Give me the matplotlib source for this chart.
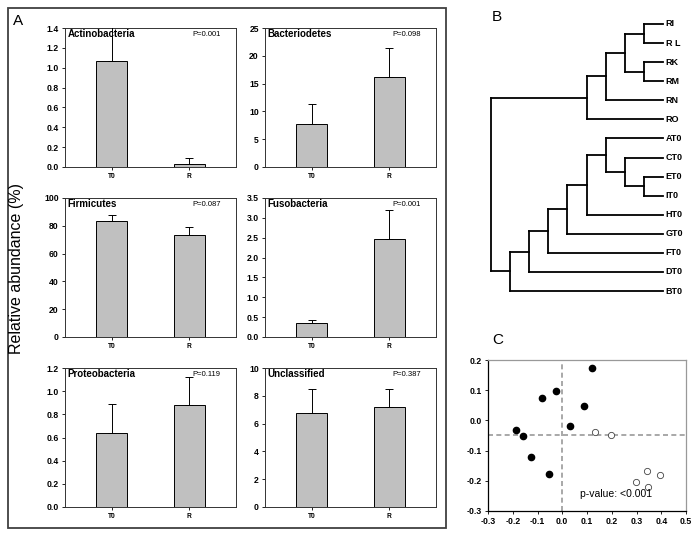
import numpy as np
import matplotlib
matplotlib.use("Agg")
import matplotlib.pyplot as plt
from matplotlib.patches import Rectangle

plt.rcParams['font.family'] = ['Liberation Sans', 'DejaVu Sans']

# Panel A data
groups = ["T0", "R"]
phyla = ["Actinobacteria", "Bacteriodetes", "Firmicutes", "Fusobacteria", "Proteobacteria", "Unclassified"]
pvals = ["P=0.001", "P=0.098", "P=0.087", "P=0.001", "P=0.119", "P=0.387"]
means = [[1.07, 0.03], [7.7, 16.1], [83.5, 73.3], [0.34, 2.48], [0.64, 0.88], [6.75, 7.2]]
errs = [[0.40, 0.06], [3.7, 5.3], [4.0, 5.7], [0.09, 0.72], [0.25, 0.24], [1.75, 1.3]]
ymax = [1.4, 25, 100, 3.5, 1.2, 10]
ystep = [0.2, 5, 20, 0.5, 0.2, 2]
yfmt = ["{:.1f}", "{:.0f}", "{:.0f}", "{:.1f}", "{:.1f}", "{:.0f}"]

# Panel B data: leaves top to bottom, merges (child, child, level)
leaves = ["RI", "R L", "RK", "RM", "RN", "RO", "AT0", "CT0", "ET0", "IT0",
          "HT0", "GT0", "FT0", "DT0", "BT0"]
merges = [
    (0, 1, 8), (2, 3, 8), (15, 16, 7), (17, 4, 6), (18, 5, 5),
    (8, 9, 8), (7, 20, 7), (6, 21, 6), (22, 10, 5), (23, 11, 4),
    (24, 12, 3), (25, 13, 2), (26, 14, 1), (19, 27, 0),
]
leaf_level = 9

# Panel C data
filled_x = [0.12, -0.025, -0.083, 0.086, 0.032, -0.185, -0.16, -0.127, -0.053]
filled_y = [0.172, 0.097, 0.074, 0.049, -0.020, -0.033, -0.053, -0.120, -0.176]
open_x = [0.132, 0.196, 0.341, 0.395, 0.298, 0.345]
open_y = [-0.039, -0.047, -0.169, -0.182, -0.203, -0.219]
hline_y = -0.047
vline_x = 0.0

W, H = 698, 536
fig = plt.figure(figsize=(W / 100, H / 100), dpi=100)


def px_axes(x0, y0, x1, y1):
    return fig.add_axes([x0 / W, 1 - y1 / H, (x1 - x0) / W, (y1 - y0) / H])


# outer box of panel A
fig.patches.append(Rectangle((8 / W, 1 - 528 / H), 438 / W, 520 / H, transform=fig.transFigure,
                             fill=False, edgecolor="#404040", linewidth=1.3))
fig.text(18 / W, 1 - 21 / H, "A", fontsize=11, ha="center", va="center")
fig.text(17 / W, 1 - 268 / H, "Relative abundance (%)", fontsize=11.5, rotation=90,
         ha="center", va="center")

lefts = [65, 265]
tops = [28, 198, 368]
for i, name in enumerate(phyla):
    x0 = lefts[i % 2]
    y0 = tops[i // 2]
    ax = px_axes(x0, y0, x0 + 171, y0 + 139)
    xs = np.arange(len(groups))
    ax.bar(xs, means[i], width=0.4, color="#c0c0c0", edgecolor="black", linewidth=0.7, zorder=2)
    ax.errorbar(xs, means[i], yerr=[[0, 0], errs[i]], fmt="none", ecolor="black",
                elinewidth=0.7, capsize=3, capthick=0.7, zorder=3)
    ax.set_xlim(-0.6, 1.6)
    ax.set_ylim(0, ymax[i])
    ticks = np.arange(0, ymax[i] + ystep[i] / 2, ystep[i])
    ax.set_yticks(ticks)
    ax.set_yticklabels([yfmt[i].format(t) for t in ticks], fontsize=6.2, fontweight="bold")
    ax.set_xticks(xs)
    ax.set_xticklabels(groups, fontsize=4.8, fontweight="bold")
    ax.tick_params(direction="out", length=2.5, width=0.6, pad=2)
    for s in ax.spines.values():
        s.set_linewidth(0.7)
        s.set_color("#333333")
    ax.text(0.015, 0.955, name, transform=ax.transAxes, fontsize=7, fontweight="bold",
            ha="left", va="center")
    ax.text(0.745, 0.955, pvals[i], transform=ax.transAxes, fontsize=5.5,
            ha="left", va="center")

# Panel B dendrogram
axb = px_axes(491, 24, 663, 291)
ypos = {i: float(i) for i in range(len(leaves))}
xpos = {i: leaf_level for i in range(len(leaves))}
for k, (a, b, lev) in enumerate(merges):
    node = len(leaves) + k
    ya, yb = ypos[a], ypos[b]
    axb.plot([lev, lev], [ya, yb], color="black", lw=1.3, clip_on=False, solid_capstyle="projecting")
    axb.plot([lev, xpos[a]], [ya, ya], color="black", lw=1.3, clip_on=False, solid_capstyle="projecting")
    axb.plot([lev, xpos[b]], [yb, yb], color="black", lw=1.3, clip_on=False, solid_capstyle="projecting")
    ypos[node] = (ya + yb) / 2
    xpos[node] = lev
for i, lab in enumerate(leaves):
    axb.text(leaf_level + 0.15, i, lab, fontsize=6.5, fontweight="bold", ha="left", va="center")
axb.set_xlim(0, leaf_level)
axb.set_ylim(len(leaves) - 1, 0)
axb.axis("off")
fig.text(497 / W, 1 - 17 / H, "B", fontsize=11, ha="center", va="center")

# Panel C scatter
axc = px_axes(488, 360, 686, 511)
axc.axhline(hline_y, color="#999999", lw=1.2, ls=(0, (3, 2)), zorder=1)
axc.axvline(vline_x, color="#999999", lw=1.2, ls=(0, (3, 2)), zorder=1)
axc.plot(filled_x, filled_y, "o", ms=4.5, color="black", zorder=3)
axc.plot(open_x, open_y, "o", ms=4.5, mfc="white", mec="#444444", mew=0.6, zorder=3)
axc.set_xlim(-0.3, 0.5)
axc.set_ylim(-0.3, 0.2)
xt = np.arange(-0.3, 0.51, 0.1)
yt = np.arange(-0.3, 0.21, 0.1)
axc.set_xticks(xt)
axc.set_xticklabels(["{:.1f}".format(v + 0.0) for v in xt], fontsize=6.3, fontweight="bold")
axc.set_yticks(yt)
axc.set_yticklabels(["{:.1f}".format(v + 0.0) for v in yt], fontsize=6.3, fontweight="bold")
axc.tick_params(direction="out", length=2.5, width=0.6, pad=2)
axc.spines["left"].set_color("black")
axc.spines["bottom"].set_color("black")
axc.spines["top"].set_color("#999999")
axc.spines["right"].set_color("#999999")
for s in axc.spines.values():
    s.set_linewidth(0.9)
axc.text(0.071, -0.245, "p-value: <0.001", fontsize=7.5, ha="left", va="center")
fig.text(498 / W, 1 - 340 / H, "C", fontsize=11, ha="center", va="center")

fig.savefig("out.png", dpi=100)
